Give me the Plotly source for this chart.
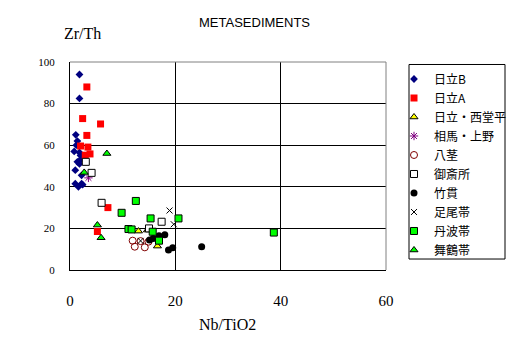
import plotly.graph_objects as go

# ---- data ----
names = ["日立B", "日立A", "日立・西堂平", "相馬・上野", "八茎", "御斎所", "竹貫", "足尾帯", "丹波帯", "舞鶴帯"]

hitachiB_x = [1.8, 1.8, 1.1, 1.4, 0.8, 1.8, 2.0, 1.4, 1.8, 1.0, 2.2, 1.0, 2.2, 2.4, 1.6, 1.2, 2.0]
hitachiB_y = [94, 82.5, 65, 62, 57, 56.5, 55, 52, 51, 48, 45.5, 41.5, 41.5, 41, 40, 60, 53]

hitachiA_x = [3.2, 2.4, 5.8, 3.2, 2.0, 3.4, 3.8, 2.9, 7.2, 5.2]
hitachiA_y = [88, 72.8, 70.2, 64.7, 59.6, 59.1, 55.8, 55.2, 30, 18.5]

nishidohira_x = [13.0, 14.7, 16.6]
nishidohira_y = [18.7, 19.2, 11.5]

soma_x = [3.5]
soma_y = [44.3]

yaguki_x = [11.9, 12.3, 13.4, 14.2, 14.9]
yaguki_y = [14.1, 11.2, 13.9, 10.9, 13.6]

gosaisho_x = [3.0, 4.1, 6.0, 17.4, 15.0]
gosaisho_y = [52, 46.7, 32.3, 23.2, 20]

takanuki_x = [15.1, 15.8, 16.9, 18.0, 18.7, 19.5, 25.0]
takanuki_y = [14.4, 15.2, 16.5, 16.9, 9.6, 10.7, 11.2]

ashio_x = [18.9, 19.7, 13.4]
ashio_y = [28.6, 22, 14]

tanba_x = [12.5, 9.8, 15.3, 20.6, 11.1, 11.7, 15.7, 16.9, 38.7]
tanba_y = [33.2, 27.5, 24.8, 24.8, 19.7, 19.5, 18.4, 14.1, 18]

maizuru_x = [7.0, 2.7, 5.2, 5.9]
maizuru_y = [56, 46.9, 21.6, 15.5]

x_ticks = [0, 20, 40, 60]
y_ticks = [0, 20, 40, 60, 80, 100]

series = [
    (hitachiB_x, hitachiB_y, dict(symbol="diamond", size=6, color="#000080", line=dict(width=0))),
    (hitachiA_x, hitachiA_y, dict(symbol="square", size=7, color="#FF0000", line=dict(width=0))),
    (nishidohira_x, nishidohira_y, dict(symbol="triangle-up", size=7, color="#FFFF00", line=dict(width=1, color="black"))),
    (soma_x, soma_y, dict(symbol="asterisk-open", size=7, color="#800080", line=dict(width=1, color="#800080"))),
    (yaguki_x, yaguki_y, dict(symbol="circle-open", size=7, color="#800000", line=dict(width=1, color="#800000"))),
    (gosaisho_x, gosaisho_y, dict(symbol="square", size=7, color="white", line=dict(width=1, color="black"))),
    (takanuki_x, takanuki_y, dict(symbol="circle", size=7, color="black", line=dict(width=0))),
    (ashio_x, ashio_y, dict(symbol="x-thin-open", size=6, color="black", line=dict(width=1, color="black"))),
    (tanba_x, tanba_y, dict(symbol="square", size=7, color="#00FF00", line=dict(width=1, color="black"))),
    (maizuru_x, maizuru_y, dict(symbol="triangle-up", size=7, color="#00FF00", line=dict(width=1, color="black"))),
]

fig = go.Figure()
for name, (xs, ys, mk) in zip(names, series):
    fig.add_trace(go.Scatter(x=xs, y=ys, mode="markers", name=name, marker=mk))

W, H = 511, 347
L, R, T, B = 70, 386, 61.5, 270
pw, ph = R - L, B - T

def px(x):
    return (x - L) / pw

def py(y):
    return (B - y) / ph

serif = "Liberation Serif"

fig.update_layout(
    width=W, height=H,
    margin=dict(l=L, r=W - R, t=T, b=H - B, pad=0, autoexpand=False),
    paper_bgcolor="white", plot_bgcolor="white",
    showlegend=True,
    legend=dict(
        x=px(394), y=py(64), xanchor="left", yanchor="top",
        bgcolor="rgba(0,0,0,0)", borderwidth=0,
        font=dict(family="Noto Sans CJK JP", size=12, color="black"),
        itemwidth=30, tracegroupgap=0,
    ),
    xaxis=dict(
        range=[0, 60], tickvals=x_ticks, ticktext=[str(v) for v in x_ticks],
        showgrid=True, gridcolor="black", gridwidth=1,
        zeroline=False, showline=True, linecolor="black", linewidth=1,
        ticks="", ticklabelstandoff=17, automargin=False,
        tickfont=dict(family=serif, size=15, color="black"),
    ),
    yaxis=dict(
        range=[0, 100], tickvals=y_ticks, ticktext=[str(v) for v in y_ticks],
        showgrid=True, gridcolor="black", gridwidth=1,
        zeroline=False, showline=True, linecolor="black", linewidth=1,
        ticks="", ticklabelstandoff=12, automargin=False,
        tickfont=dict(family=serif, size=11, color="black"),
    ),
    shapes=[
        dict(type="line", xref="paper", yref="paper", x0=0, x1=1, y0=1, y1=1,
             line=dict(color="#808080", width=1)),
        dict(type="line", xref="paper", yref="paper", x0=1, x1=1, y0=0, y1=1,
             line=dict(color="#808080", width=1)),
        dict(type="rect", xref="paper", yref="paper",
             x0=px(409), x1=px(505), y0=py(64), y1=py(259),
             line=dict(color="black", width=1), fillcolor="rgba(0,0,0,0)", layer="below"),
    ],
    annotations=[
        dict(text="METASEDIMENTS", xref="paper", yref="paper", x=px(254.5), y=py(22),
             showarrow=False, xanchor="center", yanchor="middle",
             font=dict(family="Liberation Sans", size=13, color="black")),
        dict(text="Zr/Th", xref="paper", yref="paper", x=px(82), y=py(33),
             showarrow=False, xanchor="center", yanchor="middle",
             font=dict(family=serif, size=16, color="black")),
        dict(text="Nb/TiO2", xref="paper", yref="paper", x=px(227), y=py(325),
             showarrow=False, xanchor="center", yanchor="middle",
             font=dict(family=serif, size=16, color="black")),
    ],
)

fig.write_html("out.html", config={"displayModeBar": False},
               post_script="document.body.style.margin='0';document.body.style.overflow='hidden';")
